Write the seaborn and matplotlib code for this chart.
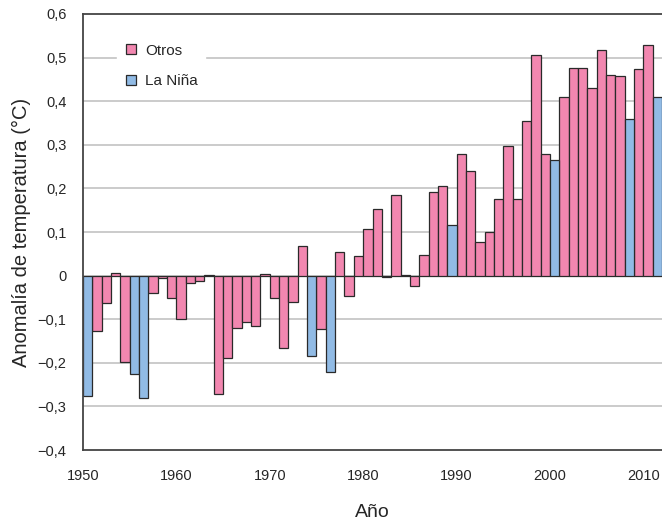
import numpy as np
import pandas as pd
import matplotlib
matplotlib.use('Agg')
import matplotlib.pyplot as plt
from matplotlib.lines import Line2D
import seaborn as sns

years = list(range(1950, 2012))
anomalies = [
    -0.277, -0.126, -0.063, 0.005, -0.199, -0.226, -0.281, -0.039, -0.005, -0.051,
    -0.100, -0.016, -0.013, 0.002, -0.272, -0.188, -0.121, -0.107, -0.115, 0.003,
    -0.051, -0.166, -0.061, 0.067, -0.185, -0.122, -0.220, 0.053, -0.047, 0.044,
    0.108, 0.153, -0.003, 0.186, 0.002, -0.024, 0.048, 0.192, 0.205, 0.115,
    0.278, 0.241, 0.076, 0.101, 0.176, 0.298, 0.176, 0.355, 0.505, 0.280,
    0.265, 0.409, 0.477, 0.477, 0.431, 0.517, 0.459, 0.457, 0.359, 0.473,
    0.529, 0.409,
]
la_nina_years = [1950, 1955, 1956, 1974, 1976, 1989, 2000, 2008, 2011]
categories = ['Otros', 'La Niña']
colors = {'Otros': '#f287b0', 'La Niña': '#91bbe5'}
y_ticks = [-0.4, -0.3, -0.2, -0.1, 0, 0.1, 0.2, 0.3, 0.4, 0.5, 0.6]
x_ticks = [1950, 1960, 1970, 1980, 1990, 2000, 2010]

df = pd.DataFrame({'year': years, 'anomaly': anomalies})
df['tipo'] = np.where(df['year'].isin(la_nina_years), 'La Niña', 'Otros')
# bars span from year to year+1
df['centro'] = df['year'] + 0.5

sns.set_style('white')
plt.rcParams['font.family'] = ['Liberation Sans', 'DejaVu Sans']

fig = plt.figure(figsize=(6.62, 5.22), dpi=100)
ax = fig.add_axes([0.1254, 0.1379, 0.8746, 0.8353])

for v in y_ticks[1:-1]:
    ax.axhline(v, color='#bdbdbd', lw=1.1, zorder=0)

sns.barplot(data=df, x='centro', y='anomaly', hue='tipo', hue_order=categories,
            palette=colors, native_scale=True, dodge=False, width=1,
            edgecolor='#2a2a2a', linewidth=0.9, saturation=1, legend=False, ax=ax)

ax.set_xlim(1950, 2012)
ax.set_ylim(-0.4, 0.6)
ax.set_xticks(x_ticks)
ax.set_xticklabels([str(x) for x in x_ticks], fontsize=10.5)
ax.set_yticks(y_ticks)
ax.set_yticklabels([('0' if v == 0 else f'{v:.1f}'.replace('.', ',').replace('-', '\u2212'))
                    for v in y_ticks], fontsize=10.5)
ax.tick_params(axis='x', length=4, width=1, color='#555555', direction='out', pad=9.5)
ax.tick_params(axis='y', length=0, pad=12)

for side in ['left', 'top', 'bottom']:
    ax.spines[side].set_color('#444444')
    ax.spines[side].set_linewidth(1.3)
ax.spines['right'].set_visible(False)

ax.set_xlabel('Año', fontsize=14, labelpad=15)
ax.set_ylabel('Anomalía de temperatura (°C)', fontsize=14.5, labelpad=5)

handles = [Line2D([], [], marker='s', linestyle='none', markersize=6.5,
                  markerfacecolor=colors[c], markeredgecolor='#2a2a2a', markeredgewidth=0.9)
           for c in categories]
leg = ax.legend(handles, categories, loc='upper left', bbox_to_anchor=(0.058, 0.948),
                frameon=True, fontsize=11, handletextpad=0.44, labelspacing=1.1,
                borderpad=0.45, handlelength=1.0, borderaxespad=0)
leg.get_frame().set_facecolor('white')
leg.get_frame().set_edgecolor('white')
leg.get_frame().set_alpha(1)
leg.get_frame().set_boxstyle('square', pad=0)

fig.savefig('out.png', dpi=100)
